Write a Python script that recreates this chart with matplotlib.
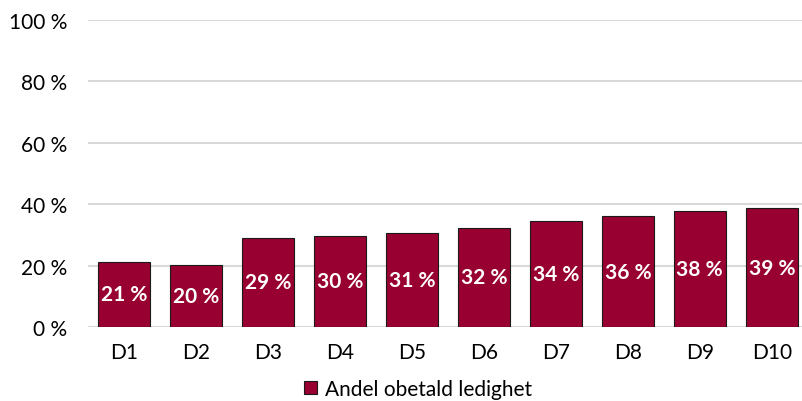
import matplotlib.pyplot as plt

categories = ["D1", "D2", "D3", "D4", "D5", "D6", "D7", "D8", "D9", "D10"]
values = [21.3, 20.3, 29.0, 29.8, 30.7, 32.3, 34.4, 36.1, 37.8, 38.6]
labels = ["21 %", "20 %", "29 %", "30 %", "31 %", "32 %", "34 %", "36 %", "38 %", "39 %"]
yticks = [0, 20, 40, 60, 80, 100]

plt.rcParams["font.family"] = ["Lato", "DejaVu Sans"]

fig = plt.figure(figsize=(8.02, 4.02), dpi=100)
ax = fig.add_axes([88 / 802, 1 - 328 / 402, 1 - 88 / 802, (328 - 21) / 402])

x = range(len(categories))
bars = ax.bar(x, values, width=0.72, color="#970030", edgecolor="#1a1a1a",
              linewidth=0.8, zorder=3, label="Andel obetald ledighet")

# value labels centred in each bar
for i, (v, lab) in enumerate(zip(values, labels)):
    ax.text(i, v / 2, lab, ha="center", va="center", color="white",
            fontsize=15, fontweight="bold", zorder=4)

ax.set_ylim(0, 100)
ax.set_xlim(-0.5, 9.42)
ax.set_yticks(yticks)
ax.set_yticklabels([f"{t} %" for t in yticks], fontsize=15)
ax.set_xticks(list(x))
ax.set_xticklabels(categories, fontsize=15)
ax.tick_params(length=0)
ax.tick_params(axis="y", pad=15)
ax.tick_params(axis="x", pad=11)
ax.yaxis.grid(True, color="#d9d9d9", linewidth=1.5, zorder=0)
for s in ax.spines.values():
    s.set_visible(False)

fig.legend(handles=[bars], labels=["Andel obetald ledighet"], loc="center",
           bbox_to_anchor=(418 / 802, 1 - 390 / 402), frameon=False,
           fontsize=15, handlelength=0.6, handleheight=0.6, handletextpad=0.4)

fig.savefig("out.png", dpi=100)
